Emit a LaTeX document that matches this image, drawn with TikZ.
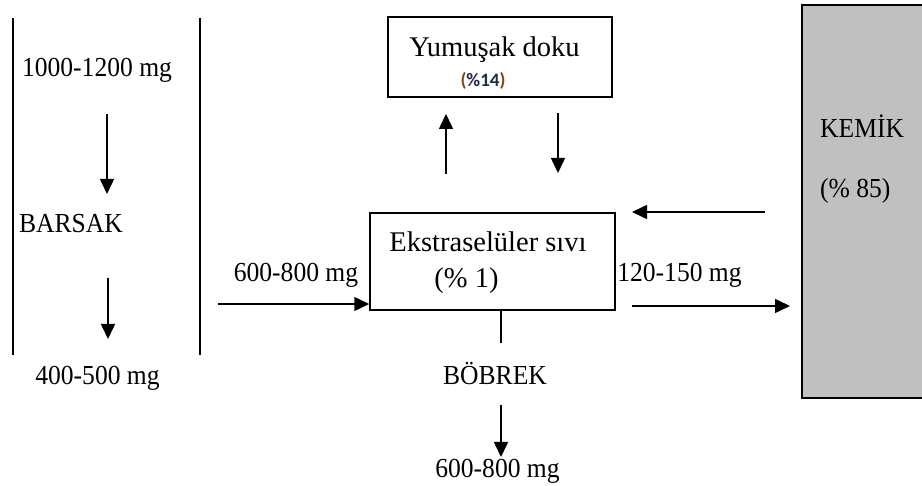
\documentclass[tikz,border=0pt]{standalone}
\usepackage{fontspec}
\setmainfont{Liberation Serif}
\newfontfamily\condserif[FakeStretch=0.93]{Liberation Serif}
\newfontfamily\calib{Carlito}
\usetikzlibrary{arrows.meta}
\definecolor{bonegray}{HTML}{C0C0C0}
\definecolor{navy}{HTML}{1F2A44}
\definecolor{brownish}{HTML}{7A4A12}
\begin{document}
\begin{tikzpicture}[x=1pt,y=-1pt,
  txt/.style={font=\condserif\fontsize{27.5}{30}\selectfont, inner sep=0pt, anchor=base},
  btxt/.style={font=\fontsize{28.5}{31}\selectfont, inner sep=0pt, anchor=base},
  arr/.style={line width=1.5pt, -{Triangle[length=15pt,width=14pt]}},
  ln/.style={line width=1.5pt},
  boxs/.style={draw, line width=1.5pt}]
\useasboundingbox (0,0) rectangle (922,486);
% left column
\coordinate (l1) at (13,18); \coordinate (l2) at (13,355);
\coordinate (r1) at (200,18); \coordinate (r2) at (200,355);
\draw[ln] (l1) -- (l2);
\draw[ln] (r1) -- (r2);
\node[txt] (in) at (97,77) {1000-1200 mg};
\node[txt] (bar) at (71,233) {BARSAK};
\node[txt] (out) at (97.5,385) {400-500 mg};
\coordinate (a1s) at (107,114); \coordinate (a1e) at (107,194);
\coordinate (a2s) at (108,278); \coordinate (a2e) at (108,339);
\draw[arr] (a1s) -- (a1e);
\draw[arr] (a2s) -- (a2e);
% soft tissue
\node[boxs, minimum width=224pt, minimum height=80pt, inner sep=0pt] (yum) at (500,57) {};
\node[btxt] (yumt) at (494.5,57) {Yumuşak doku};
\node[inner sep=0pt, anchor=base, font=\calib\bfseries\fontsize{19}{21}\selectfont] (yump) at (483,87) {\textcolor{brownish}{(}\textcolor{navy}{\%14}\textcolor{brownish}{)}};
\coordinate (u1) at (446,174); \coordinate (u2) at (446,114);
\coordinate (d1) at (558,113); \coordinate (d2) at (558,173);
\draw[arr] (u1) -- (u2);
\draw[arr] (d1) -- (d2);
% ECF
\node[boxs, minimum width=245pt, minimum height=97pt, inner sep=0pt] (ecf) at (492.5,261.5) {};
\node[btxt] (ecft) at (488,252) {Ekstraselüler sıvı};
\node[btxt] (ecfp) at (466.5,288) {(\% 1)};
\coordinate (ia) at (218,304);
\draw[arr] (ia) -- (ecf.west |- ia);
\node[txt] (in2) at (296,282) {600-800 mg};
% kidney
\coordinate (k1) at (501,343);
\draw[ln] (ecf.south -| k1) -- (k1);
\node[txt] (bob) at (495,385) {BÖBREK};
\coordinate (k2) at (501,405); \coordinate (k3) at (501,457);
\draw[arr] (k2) -- (k3);
\node[txt] (kout) at (497.5,478) {600-800 mg};
% bone
\node[draw, line width=1.5pt, fill=bonegray, minimum width=124pt, minimum height=393pt, inner sep=0pt] (kem) at (864,201.5) {};
\node[txt, anchor=base west] (kemt) at (820,138) {KEMİK};
\node[txt, anchor=base west] (kemp) at (820,198) {(\% 85)};
\coordinate (b1) at (765,212); \coordinate (b2) at (632,212);
\draw[arr] (b1) -- (b2);
\coordinate (o1) at (632,306); \coordinate (o2) at (790,306);
\draw[arr] (o1) -- (o2);
\node[txt] (bout) at (679.5,282) {120-150 mg};
\end{tikzpicture}
\end{document}
